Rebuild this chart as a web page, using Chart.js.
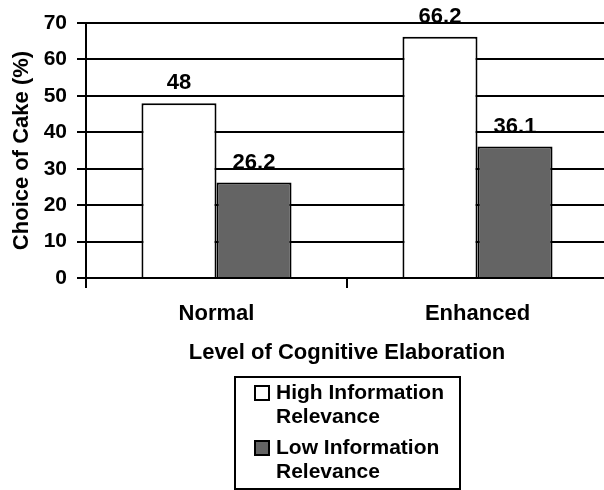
<!DOCTYPE html>
<html>
<head>
<meta charset="utf-8">
<script src="https://cdn.jsdelivr.net/npm/chart.js@4/dist/chart.umd.min.js"></script>
<style>
  html,body{margin:0;padding:0;background:#fff;overflow:hidden;}
  #wrap{width:612px;height:490px;}
</style>
</head>
<body>
<div id="wrap"><canvas id="cake" width="612" height="490"></canvas></div>
<script>
(function(){
  'use strict';

  const categories = ['Normal', 'Enhanced'];
  const highRelevance = [48, 66.2];
  const lowRelevance = [26.2, 36.1];
  const valueText = [['48', '66.2'], ['26.2', '36.1']];
  const seriesLines = [['High Information', 'Relevance'], ['Low Information', 'Relevance']];
  const yTicks = [0, 10, 20, 30, 40, 50, 60, 70];

  const FONT = "'Liberation Sans', Arial, sans-serif";
  const GRAY = '#646464';

  // numbers over the bars
  const barLabels = {
    id: 'barLabels',
    afterDatasetsDraw(chart){
      const ctx = chart.ctx;
      ctx.save();
      ctx.font = 'bold 22px ' + FONT;
      ctx.fillStyle = '#000';
      ctx.textAlign = 'center';
      ctx.textBaseline = 'middle';
      chart.data.datasets.forEach((ds, i) => {
        chart.getDatasetMeta(i).data.forEach((bar, j) => {
          ctx.fillText(valueText[i][j], bar.x, bar.y - 20);
        });
      });
      ctx.restore();
    }
  };

  // boxed legend under the axis title
  const boxLegend = {
    id: 'boxLegend',
    afterDraw(chart){
      const ctx = chart.ctx;
      const x0 = 235, y0 = 377, w = 225, h = 112;
      ctx.save();
      ctx.lineWidth = 2;
      ctx.strokeStyle = '#000';
      ctx.strokeRect(x0, y0, w, h);
      ctx.font = 'bold 21px ' + FONT;
      ctx.textBaseline = 'middle';
      ctx.textAlign = 'left';
      let y = y0 + 16;
      chart.data.datasets.forEach((ds, i) => {
        ctx.fillStyle = ds.backgroundColor;
        ctx.fillRect(x0 + 20, y - 7, 14, 14);
        ctx.strokeRect(x0 + 20, y - 7, 14, 14);
        ctx.fillStyle = '#000';
        seriesLines[i].forEach((line, k) => {
          ctx.fillText(line, x0 + 41, y + k * 24);
        });
        y += 55;
      });
      ctx.restore();
    }
  };

  new Chart(document.getElementById('cake'), {
    type: 'bar',
    data: {
      labels: categories,
      datasets: [
        { label: seriesLines[0].join(' '), data: highRelevance, backgroundColor: '#ffffff', borderColor: '#000', borderWidth: 2 },
        { label: seriesLines[1].join(' '), data: lowRelevance, backgroundColor: GRAY, borderColor: '#000', borderWidth: 2 }
      ]
    },
    options: {
      responsive: false,
      animation: false,
      layout: { padding: { left: 0, top: 23, right: 4, bottom: 124 } },
      datasets: { bar: { categoryPercentage: 0.575, barPercentage: 1 } },
      plugins: { legend: { display: false }, tooltip: { enabled: false } },
      scales: {
        x: {
          afterFit(scale){ scale.height = 88; },
          grid: { offset: true, drawOnChartArea: false, color: '#000', lineWidth: 2, tickLength: 10 },
          border: { color: '#000', width: 2 },
          ticks: { color: '#000', padding: 13, font: { family: FONT, size: 22, weight: 'bold' } },
          title: { display: true, text: 'Level of Cognitive Elaboration', color: '#000', padding: { top: 0, bottom: 0 },
                   font: { family: FONT, size: 22, weight: 'bold' } }
        },
        y: {
          min: 0, max: 70,
          afterFit(scale){ scale.width = 86; },
          afterBuildTicks(scale){ scale.ticks = yTicks.map(v => ({ value: v })); },
          grid: { color: '#000', lineWidth: 2, tickLength: 9 },
          border: { color: '#000', width: 2 },
          ticks: { color: '#000', padding: 10, font: { family: FONT, size: 21, weight: 'bold' } },
          title: { display: true, text: 'Choice of Cake (%)', color: '#000', padding: { top: 9, bottom: 0 },
                   font: { family: FONT, size: 22, weight: 'bold' } }
        }
      }
    },
    plugins: [barLabels, boxLegend]
  });
})();
</script>
</body>
</html>
